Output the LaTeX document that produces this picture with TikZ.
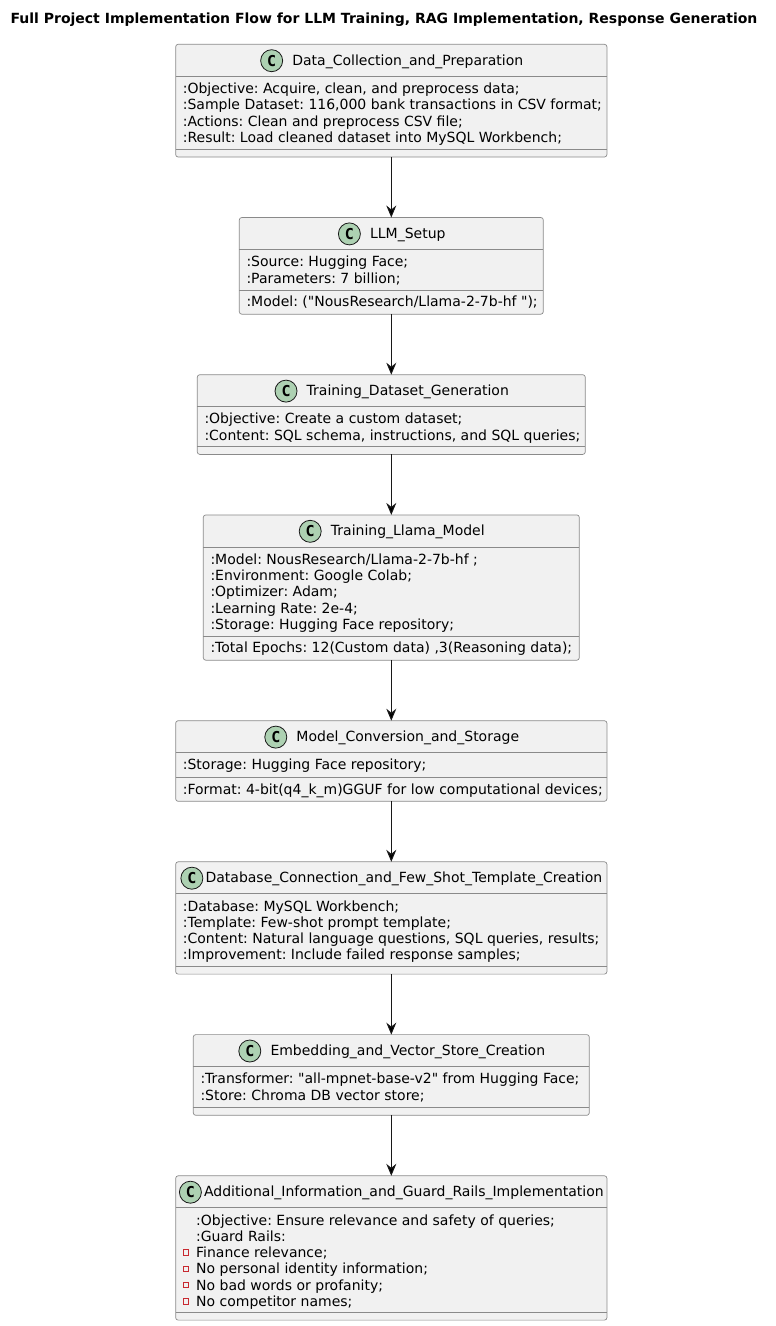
\documentclass[tikz,border=0pt]{standalone}
\usepackage{fontspec}
\setmainfont{DejaVu Sans}
\newfontfamily\iconfont{DejaVu Sans Mono}
\usetikzlibrary{arrows.meta,positioning,calc}
\definecolor{boxfill}{HTML}{F1F1F1}
\definecolor{boxline}{HTML}{181818}
\definecolor{rimline}{HTML}{8A8A8A}
\definecolor{iconfill}{HTML}{ADD1B2}
\definecolor{privred}{HTML}{C82930}
\frenchspacing

\begin{document}
\begin{tikzpicture}[x=1pt,y=1pt,>={Stealth[length=12pt,width=10pt,inset=4pt]},
                    node distance=60.5pt,
  classbox/.style={draw=rimline,line width=0.7pt,fill=boxfill,rounded corners=2.5pt,
                   inner sep=0pt,outer sep=0pt,minimum height=#1},
  classname/.style={inner sep=0pt,text height=12.7pt,text depth=3.5pt,
                    font=\fontsize{14pt}{16.3pt}\selectfont},
  classicon/.style={circle,draw=boxline,line width=0.8pt,fill=iconfill,minimum size=22pt,
                    inner sep=0pt,outer sep=0pt,font=\iconfont\bfseries\fontsize{15pt}{15pt}\selectfont},
  members/.style={anchor=north west,align=left,inner sep=0pt,
                  font=\fontsize{14pt}{16.3pt}\selectfont},
  method/.style={anchor=base west,inner sep=0pt,font=\fontsize{14pt}{16.3pt}\selectfont},
  privmark/.style={draw=privred,line width=0.8pt,minimum size=5.5pt,inner sep=0pt},
  sepline/.style={draw=rimline,line width=0.7pt},
  flow/.style={->,draw=boxline,line width=1pt}]
%  \useasboundingbox fixes the page to the reference size
  \useasboundingbox (0,0) rectangle (776,-1326);

  \node[font=\bfseries\fontsize{14pt}{16pt}\selectfont,anchor=base] (title) at (384,-23.3)
    {Full Project Implementation Flow for LLM Training, RAG Implementation, Response Generation};

  \node[classbox=112.7pt,minimum width=431.3pt] (dcp) at (391.3,-100.65) {};
  \node[classbox=96.7pt,minimum width=304pt]    (llm) [below=of dcp] {};
  \node[classbox=79.7pt,minimum width=388pt]    (tdg) [below=of llm] {};
  \node[classbox=145.3pt,minimum width=376pt]   (tlm) [below=of tdg] {};
  \node[classbox=80.6pt,minimum width=431.3pt]  (mcs) [below=of tlm] {};
  \node[classbox=112.3pt,minimum width=431.3pt] (dbc) [below=of mcs] {};
  \node[classbox=80.7pt,minimum width=396pt]    (evs) [below=of dbc] {};
  \node[classbox=144.3pt,minimum width=431.3pt] (agr) [below=of evs] {};

  \foreach \b/\m in {dcp/8,llm/24,tdg/8,tlm/24,mcs/24,dbc/8,evs/8,agr/8}{
    \draw[sepline] ([yshift=-32pt]\b.north west) -- ([yshift=-32pt]\b.north east);
    \draw[sepline] ([yshift=\m pt]\b.south west) -- ([yshift=\m pt]\b.south east);
  }

  % class headers
  \node[classname] (dcp-n) at ($(dcp.north)+(16.5,-16.4)$) {Data\_Collection\_and\_Preparation};
  \node[classname] (llm-n) at ($(llm.north)+(16.5,-16.4)$) {LLM\_Setup};
  \node[classname] (tdg-n) at ($(tdg.north)+(16.5,-16.4)$) {Training\_Dataset\_Generation};
  \node[classname] (tlm-n) at ($(tlm.north)+(16.5,-16.4)$) {Training\_Llama\_Model};
  \node[classname] (mcs-n) at ($(mcs.north)+(16.5,-16.4)$) {Model\_Conversion\_and\_Storage};
  \node[classname] (dbc-n) at ($(dbc.north)+(12.6,-16.4)$) {Database\_Connection\_and\_Few\_Shot\_Template\_Creation};
  \node[classname] (evs-n) at ($(evs.north)+(16.5,-16.4)$) {Embedding\_and\_Vector\_Store\_Creation};
  \node[classname] (agr-n) at ($(agr.north)+(12.6,-16.4)$) {Additional\_Information\_and\_Guard\_Rails\_Implementation};

  \node[classicon] (dcp-c) [left=9.5pt of dcp-n] {C};
  \node[classicon] (llm-c) [left=9.5pt of llm-n] {C};
  \node[classicon] (tdg-c) [left=9.5pt of tdg-n] {C};
  \node[classicon] (tlm-c) [left=9.5pt of tlm-n] {C};
  \node[classicon] (mcs-c) [left=9.5pt of mcs-n] {C};
  \node[classicon] (dbc-c) [left=2.5pt of dbc-n] {C};
  \node[classicon] (evs-c) [left=9.5pt of evs-n] {C};
  \node[classicon] (agr-c) [left=2.5pt of agr-n] {C};

  % members
  \node[members] (dcp-f) at ($(dcp.north west)+(7,-37.6)$)
    {\strut:Objective: Acquire, clean, and preprocess data;\\
     :Sample Dataset: 116,000 bank transactions in CSV format;\\
     :Actions: Clean and preprocess CSV file;\\
     :Result: Load cleaned dataset into MySQL Workbench;};
  \node[members] (llm-f) at ($(llm.north west)+(7,-37.6)$)
    {\strut:Source: Hugging Face;\\
     :Parameters: 7 billion;};
  \node[method] (llm-m) at ($(llm.south west)+(7,7.3)$) {:Model: (\textquotedbl NousResearch/Llama-2-7b-hf \textquotedbl);};
  \node[members] (tdg-f) at ($(tdg.north west)+(7,-37.6)$)
    {\strut:Objective: Create a custom dataset;\\
     :Content: SQL schema, instructions, and SQL queries;};
  \node[members] (tlm-f) at ($(tlm.north west)+(7,-37.6)$)
    {\strut:Model: NousResearch/Llama-2-7b-hf ;\\
     :Environment: Google Colab;\\
     :Optimizer: Adam;\\
     :Learning Rate: 2e-4;\\
     :Storage: Hugging Face repository;};
  \node[method] (tlm-m) at ($(tlm.south west)+(7,7.3)$) {:Total Epochs: 12(Custom data) ,3(Reasoning data);};
  \node[members] (mcs-f) at ($(mcs.north west)+(7,-37.6)$)
    {\strut:Storage: Hugging Face repository;};
  \node[method] (mcs-m) at ($(mcs.south west)+(7,7.3)$) {:Format: 4-bit(q4\_k\_m)GGUF for low computational devices;};
  \node[members] (dbc-f) at ($(dbc.north west)+(7,-37.6)$)
    {\strut:Database: MySQL Workbench;\\
     :Template: Few-shot prompt template;\\
     :Content: Natural language questions, SQL queries, results;\\
     :Improvement: Include failed response samples;};
  \node[members] (evs-f) at ($(evs.north west)+(7,-37.6)$)
    {\strut:Transformer: \textquotedbl all-mpnet-base-v2\textquotedbl{} from Hugging Face;\\
     :Store: Chroma DB vector store;};
  \node[members] (agr-f) at ($(agr.north west)+(20.3,-37.6)$)
    {\strut:Objective: Ensure relevance and safety of queries;\\
     :Guard Rails:\\
     Finance relevance;\\
     No personal identity information;\\
     No bad words or profanity;\\
     No competitor names;};
  \foreach \i in {2,...,5}
    \node[privmark] (agr-p\i) at ($(agr.north west)+(10.3,{-49-16.3*\i+5})$) {};

  \path[flow] (dcp) edge (llm)
              (llm) edge (tdg)
              (tdg) edge (tlm)
              (tlm) edge (mcs)
              (mcs) edge (dbc)
              (dbc) edge (evs)
              (evs) edge (agr);

\end{tikzpicture}
\end{document}
